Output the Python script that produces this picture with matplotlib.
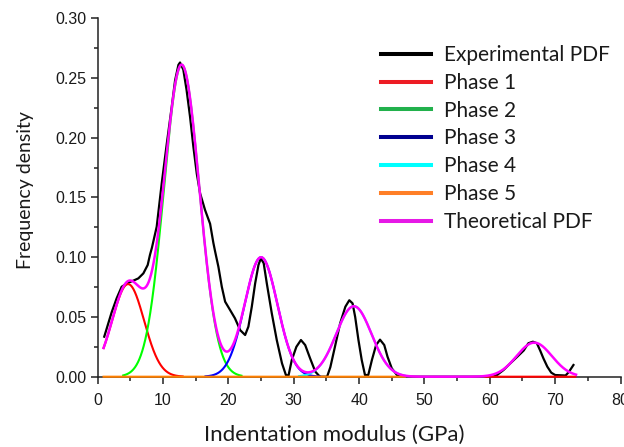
import numpy as np
import matplotlib
matplotlib.use("Agg")
import matplotlib.pyplot as plt
from matplotlib.lines import Line2D
from matplotlib.ticker import MultipleLocator, FormatStrFormatter

# Experimental probability density of indentation modulus
exp_modulus = [1.0, 2.14, 2.9, 3.67, 4.69, 5.45, 6.22, 6.99, 7.65, 8.0, 8.3, 9.03, 9.8,
               10.57, 11.33, 11.84, 12.35, 12.6, 13.1, 13.6, 14.13, 14.64, 15.16, 15.67,
               16.43, 17.2, 17.7, 17.96, 18.47, 18.99, 19.5, 20.26, 21.0, 21.8, 22.56,
               23.06, 23.58, 24.09, 24.6, 24.96, 25.4, 25.88, 26.64, 27.4, 28.2, 28.8,
               29.2, 29.7, 30.4, 31.1, 31.75, 32.5, 33.3, 34.0, 35.1, 35.6, 36.3, 37.1,
               37.9, 38.5, 39.0, 39.4, 39.9, 40.4, 40.9, 41.4, 41.96, 42.6, 43.2, 43.85,
               44.35, 45.0, 45.8, 46.5, 60.5, 61.1, 62.1, 63.1, 64.2, 65.2, 65.9, 66.6,
               67.2, 67.7, 68.2, 68.8, 69.4, 70.0, 71.6, 72.1, 72.8]
exp_density = [0.0335, 0.054, 0.0656, 0.0753, 0.0787, 0.0804, 0.0823, 0.0865, 0.0935,
               0.102, 0.108, 0.1256, 0.162, 0.195, 0.226, 0.248, 0.261, 0.263, 0.257,
               0.240, 0.2176, 0.1925, 0.170, 0.1535, 0.1395, 0.128, 0.112, 0.105, 0.092,
               0.0753, 0.0628, 0.0558, 0.0489, 0.039, 0.0349, 0.0419, 0.0586, 0.078,
               0.0935, 0.099, 0.095, 0.078, 0.053, 0.0307, 0.0112, 0.0014, 0.001, 0.014,
               0.025, 0.0307, 0.0265, 0.0154, 0.0042, 0.0, 0.0, 0.008, 0.025, 0.0447,
               0.0586, 0.064, 0.0614, 0.050, 0.0307, 0.014, 0.0014, 0.0014, 0.014, 0.0265,
               0.031, 0.0265, 0.0167, 0.007, 0.0014, 0.0, 0.0, 0.0014, 0.0056, 0.011,
               0.0167, 0.022, 0.028, 0.0293, 0.028, 0.022, 0.0154, 0.0084, 0.0034, 0.0014,
               0.001, 0.004, 0.0098]

# Gaussian phases from the deconvolution: mean (GPa), std (GPa), peak density
phase_names = ["Phase 1", "Phase 2", "Phase 3", "Phase 4", "Phase 5"]
phase_mean = [4.65, 12.85, 25.0, 39.2, 66.8]
phase_std = [2.45, 2.7, 2.5, 2.7, 2.7]
phase_peak = [0.0775, 0.261, 0.100, 0.059, 0.0285]
# modulus intervals over which each phase curve was evaluated
phase_spans = [[(0.9, 13.0), (59.3, 73.1)],
               [(3.9, 22.0)],
               [(16.5, 34.0)],
               [(30.8, 47.0)],
               [(0.9, 47.0)]]
theory_span = (0.9, 73.2)

curve_colors = ["#ff0000", "#00ff00", "#0000ff", "#00ffff", "#ff8000"]
legend_colors = ["#000000", "#ed1c24", "#22b14c", "#000090", "#00ffff", "#ff7f27", "#e619e6"]

label_font = ["Lato", "DejaVu Sans"]
tick_font = ["Liberation Sans", "DejaVu Sans"]
text_color = "#1a1a1a"

fig = plt.figure(figsize=(6.24, 4.47), dpi=100)
ax = fig.add_axes([97.7 / 624, 1 - 376.7 / 447, (620.5 - 97.7) / 624, (376.7 - 18.3) / 447])

grid = np.linspace(0.0, 80.0, 4001)


def phase_pdf(x, k):
    return phase_peak[k] * np.exp(-0.5 * ((x - phase_mean[k]) / phase_std[k]) ** 2)


ax.plot(exp_modulus, exp_density, color="black", lw=1.6, zorder=2,
        solid_joinstyle="round")

for k in range(len(phase_names)):
    y = phase_pdf(grid, k)
    mask = np.zeros_like(grid, dtype=bool)
    for lo, hi in phase_spans[k]:
        mask |= (grid >= lo) & (grid <= hi)
    ax.plot(grid, np.where(mask, y, np.nan), color=curve_colors[k], lw=1.5,
            zorder=3, clip_on=False)

theory = sum(phase_pdf(grid, k) for k in range(len(phase_names)))
tmask = (grid >= theory_span[0]) & (grid <= theory_span[1])
ax.plot(grid, np.where(tmask, theory, np.nan), color="#ff00ff", lw=1.8, zorder=4,
        clip_on=False)

ax.set_xlim(0, 80)
ax.set_ylim(0, 0.30)
for side in ("top", "right"):
    ax.spines[side].set_visible(False)
for side in ("left", "bottom"):
    ax.spines[side].set_linewidth(1.1)
    ax.spines[side].set_color("#222222")
    ax.spines[side].set_zorder(1)

ax.xaxis.set_major_locator(MultipleLocator(10))
ax.xaxis.set_minor_locator(MultipleLocator(5))
ax.yaxis.set_major_locator(MultipleLocator(0.05))
ax.yaxis.set_minor_locator(MultipleLocator(0.025))
ax.yaxis.set_major_formatter(FormatStrFormatter("%.2f"))
ax.tick_params(which="major", direction="out", length=5, width=1.1, color="#222222",
               labelsize=11.5, labelcolor=text_color)
ax.tick_params(which="minor", direction="out", length=2.7, width=1.1, color="#222222")
ax.tick_params(axis="x", which="major", pad=7)
ax.tick_params(axis="y", which="major", pad=3)
for lab in ax.get_xticklabels() + ax.get_yticklabels():
    lab.set_family(tick_font)

ax.set_xlabel("Indentation modulus (GPa)", family=label_font, fontsize=16,
              color=text_color)
ax.xaxis.set_label_coords((334 - 97.7) / 522.8, -0.133)
ax.set_ylabel("Frequency density", family=label_font, fontsize=14, color=text_color)
ax.yaxis.set_label_coords(-0.122, (376.7 - 190) / 358.4)

handles = [Line2D([], [], color=c, lw=2.9) for c in legend_colors]
labels = ["Experimental PDF"] + phase_names + ["Theoretical PDF"]
leg = ax.legend(handles, labels, loc="upper left",
                bbox_to_anchor=(381 / 624, 1 - 45 / 447), bbox_transform=fig.transFigure,
                frameon=False, borderpad=0, borderaxespad=0, handlelength=2.4,
                handletextpad=0.6, labelspacing=0.375,
                prop={"family": label_font, "size": 15})
for t in leg.get_texts():
    t.set_color(text_color)

fig.savefig("out.png", dpi=100)
